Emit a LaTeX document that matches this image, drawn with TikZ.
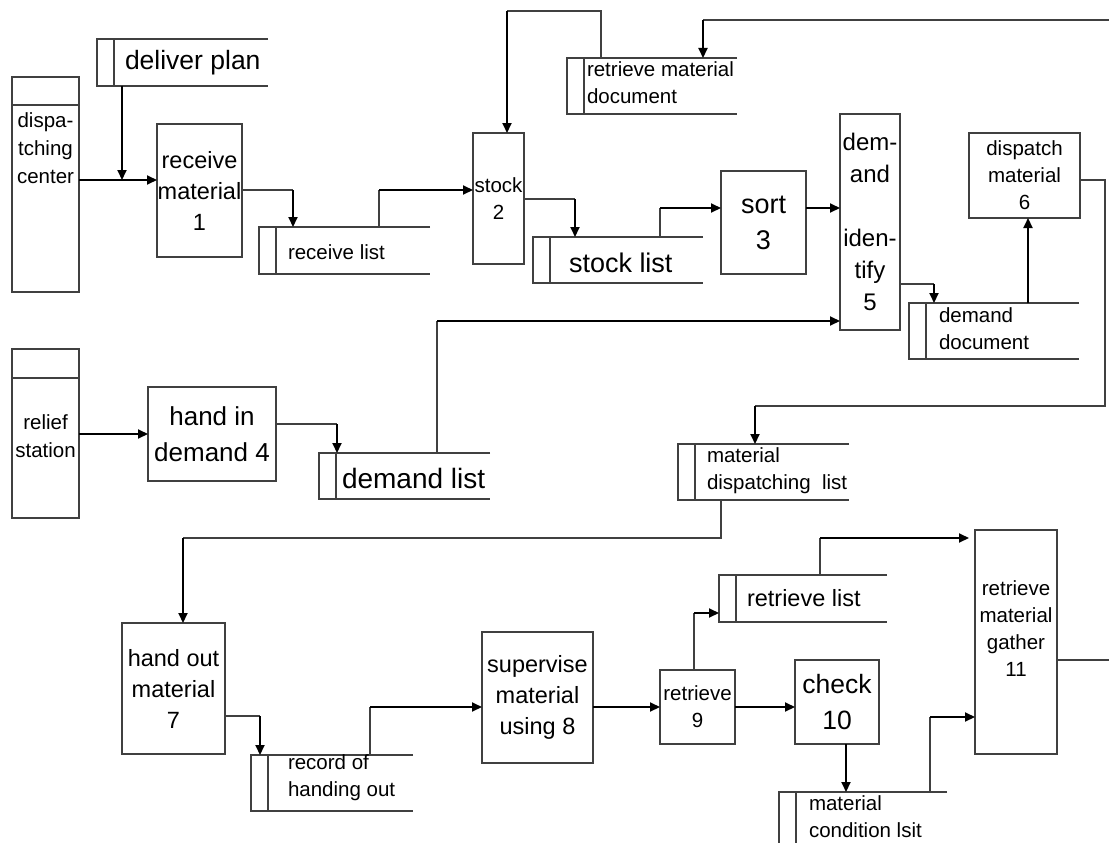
\documentclass[tikz,border=0pt]{standalone}
\usepackage{fontspec}
\setmainfont{Liberation Sans}
\usetikzlibrary{arrows.meta,fit}
\definecolor{linegray}{RGB}{64,64,64}
% open-ended data store: name, left x, top y, right x, bottom y
\newcommand{\datastore}[5]{%
  \coordinate (#1-a) at (#2,#3);
  \coordinate (#1-b) at (#4,#5);
  \node[fit=(#1-a)(#1-b),inner sep=0pt,outer sep=0pt] (#1) {};
  \draw[box] (#1.north east) -- (#1.north west) -- (#1.south west) -- (#1.south east);
  \draw[box] ([xshift=17pt]#1.north west) -- ([xshift=17pt]#1.south west);
}
\begin{document}
\begin{tikzpicture}[x=1pt,y=-1pt,
  box/.style={draw=linegray,line width=1.3pt,inner sep=0pt,outer sep=0pt},
  wire/.style={draw=linegray,line width=1.3pt},
  flow/.style={draw=black,line width=2pt,-{Triangle[length=10pt,width=9pt]}},
  txt/.style={inner sep=0pt,outer sep=0pt,align=center,text=black},
  fA/.style={font=\fontsize{20.5}{27}\selectfont},
  fB/.style={font=\fontsize{23.5}{31}\selectfont},
  fC/.style={font=\fontsize{26.5}{36}\selectfont},
]
\useasboundingbox (0,0) rectangle (1109,843);
\clip (0,0) rectangle (1109,843);

% ---- data stores ----
\datastore{s1}{97}{39}{268}{86}
\datastore{s2}{259}{227}{430}{274}
\datastore{s3}{567}{58}{737}{114}
\datastore{s4}{533}{237}{703}{283}
\datastore{s5}{909}{303}{1079}{359}
\datastore{s6}{319}{453}{490}{499}
\datastore{s7}{678}{444}{849}{500}
\datastore{s8}{251}{755}{413}{811}
\datastore{s9}{719}{575}{887}{622}
\datastore{s10}{779}{792}{947}{870}

\node[txt,fC,anchor=west] (s1t) at (125,62.5) {deliver plan};
\node[txt,fA,anchor=west] (s2t) at (288,252.5) {receive list};
\node[txt,fA,anchor=west,align=left] (s3t) at (587,83) {retrieve material\\document};
\node[txt,font=\fontsize{27}{36}\selectfont,anchor=west] (s4t) at (569,263) {stock list};
\node[txt,fA,anchor=west,align=left] (s5t) at (939,329) {demand\\document};
\node[txt,font=\fontsize{28}{34}\selectfont,anchor=west] (s6t) at (342,478) {demand list};
\node[txt,fA,anchor=west,align=left] (s7t) at (707,471) {material\\dispatching\ \ list};
\node[txt,fA,anchor=west,align=left] (s8t) at (288,778) {record of\\handing out};
\node[txt,fB,anchor=west] (s9t) at (747,598) {retrieve list};
\node[txt,fA,anchor=west,align=left] (s10t) at (809,817) {material\\condition lsit};

% ---- external entities ----
\node[box,minimum width=67pt,minimum height=215pt] (e1) at (45.5,184.5) {};
\draw[box] ([yshift=-28pt]e1.north west) -- ([yshift=-28pt]e1.north east);
\node[txt,font=\fontsize{20.5}{28}\selectfont] (e1t) at (45.5,148.5) {dispa-\\tching\\center};

\node[box,minimum width=67pt,minimum height=169pt] (e2) at (45.5,433.5) {};
\draw[box] ([yshift=-29pt]e2.north west) -- ([yshift=-29pt]e2.north east);
\node[txt,font=\fontsize{20.5}{28}\selectfont] (e2t) at (45.5,436.5) {relief\\station};

% ---- processes ----
\node[box,txt,fB,minimum width=85pt,minimum height=133pt] (p1) at (199.5,190.5) {receive\\material\\1};
\node[box,txt,fA,minimum width=51pt,minimum height=131pt] (p2) at (498.5,198.5) {stock\\2};
\node[box,txt,font=\fontsize{27}{36}\selectfont,minimum width=85pt,minimum height=103pt] (p3) at (763.5,222.5) {sort\\3};
\node[box,txt,font=\fontsize{24}{32}\selectfont,minimum width=60pt,minimum height=216pt] (p5) at (870,222) {dem-\\and\\[32pt]iden-\\tify\\5};
\node[box,txt,fA,minimum width=111pt,minimum height=85pt] (p6) at (1024.5,175.5) {dispatch\\material\\6};
\node[box,txt,font=\fontsize{26}{36}\selectfont,minimum width=128pt,minimum height=94pt] (p4) at (212,434) {hand in\\demand 4};
\node[box,txt,fB,minimum width=103pt,minimum height=131pt] (p7) at (173.5,688.5) {hand out\\material\\7};
\node[box,txt,fB,minimum width=111pt,minimum height=131pt] (p8) at (537.5,697.5) {supervise\\material\\using 8};
\node[box,txt,fA,minimum width=75pt,minimum height=74pt] (p9) at (697.5,707) {retrieve\\9};
\node[box,txt,fC,minimum width=84pt,minimum height=84pt] (p10) at (837,702) {check\\10};
\node[box,minimum width=82pt,minimum height=224pt] (p11) at (1016,642) {};
\node[txt,fA] (p11t) at (1016,629) {retrieve\\material\\gather\\11};

% ---- data flows ----
\coordinate (j1) at (122,180);
\draw[flow] (e1.east |- j1) -- (p1.west |- j1);
\draw[flow] (s1.south -| j1) -- (j1);

\coordinate (k1) at (293,190);
\draw[wire] (p1.east |- k1) -- (k1);
\draw[flow] (k1) -- (s2.north -| k1);

\coordinate (k2) at (379,190);
\draw[wire] (s2.north -| k2) -- (k2);
\draw[flow] (k2) -- (p2.west |- k2);

\coordinate (k3a) at (601,11);
\coordinate (k3b) at (507,11);
\draw[wire] (s3.north -| k3a) -- (k3a) -- (k3b);
\draw[flow] (k3b) -- (p2.north -| k3b);

\coordinate (edgeA) at (1109,20);
\coordinate (k4) at (703,20);
\draw[wire] (edgeA) -- (k4);
\draw[flow] (k4) -- (s3.north -| k4);

\coordinate (k5) at (575,199);
\draw[wire] (p2.east |- k5) -- (k5);
\draw[flow] (k5) -- (s4.north -| k5);

\coordinate (k6) at (660,208);
\draw[wire] (s4.north -| k6) -- (k6);
\draw[flow] (k6) -- (p3.west |- k6);
\draw[flow] (p3.east |- k6) -- (p5.west |- k6);

\coordinate (k7) at (437,321);
\draw[wire] (s6.north -| k7) -- (k7);
\draw[flow] (k7) -- (p5.west |- k7);

\coordinate (k8) at (934,284);
\draw[wire] (p5.east |- k8) -- (k8);
\draw[flow] (k8) -- (s5.north -| k8);

\coordinate (k9) at (1028,0);
\draw[flow] (s5.north -| k9) -- (p6.south -| k9);

\coordinate (k10a) at (1105,180);
\coordinate (k10b) at (1105,406);
\coordinate (k10c) at (755,406);
\draw[wire] (p6.east |- k10a) -- (k10a) -- (k10b) -- (k10c);
\draw[flow] (k10c) -- (s7.north -| k10c);

\coordinate (k11) at (0,434);
\draw[flow] (e2.east |- k11) -- (p4.west |- k11);

\coordinate (k12) at (337,424);
\draw[wire] (p4.east |- k12) -- (k12);
\draw[flow] (k12) -- (s6.north -| k12);

\coordinate (k13a) at (721,538);
\coordinate (k13b) at (183,538);
\draw[wire] (s7.south -| k13a) -- (k13a) -- (k13b);
\draw[flow] (k13b) -- (p7.north -| k13b);

\coordinate (k14) at (260,716);
\draw[wire] (p7.east |- k14) -- (k14);
\draw[flow] (k14) -- (s8.north -| k14);

\coordinate (k15) at (370,707);
\draw[wire] (s8.north -| k15) -- (k15);
\draw[flow] (k15) -- (p8.west |- k15);
\draw[flow] (p8.east |- k15) -- (p9.west |- k15);
\draw[flow] (p9.east |- k15) -- (p10.west |- k15);

\coordinate (k16) at (694,613);
\draw[wire] (p9.north -| k16) -- (k16);
\draw[flow] (k16) -- (s9.west |- k16);

\coordinate (k17) at (820,538);
\draw[wire] (s9.north -| k17) -- (k17);
\draw[flow,shorten >=6pt] (k17) -- (p11.west |- k17);

\coordinate (k18) at (846,0);
\draw[flow] (p10.south -| k18) -- (s10.north -| k18);

\coordinate (k19) at (930,717);
\draw[wire] (s10.north -| k19) -- (k19);
\draw[flow] (k19) -- (p11.west |- k19);

\coordinate (edgeB) at (1109,660);
\draw[wire] (p11.east |- edgeB) -- (edgeB);
\end{tikzpicture}
\end{document}
